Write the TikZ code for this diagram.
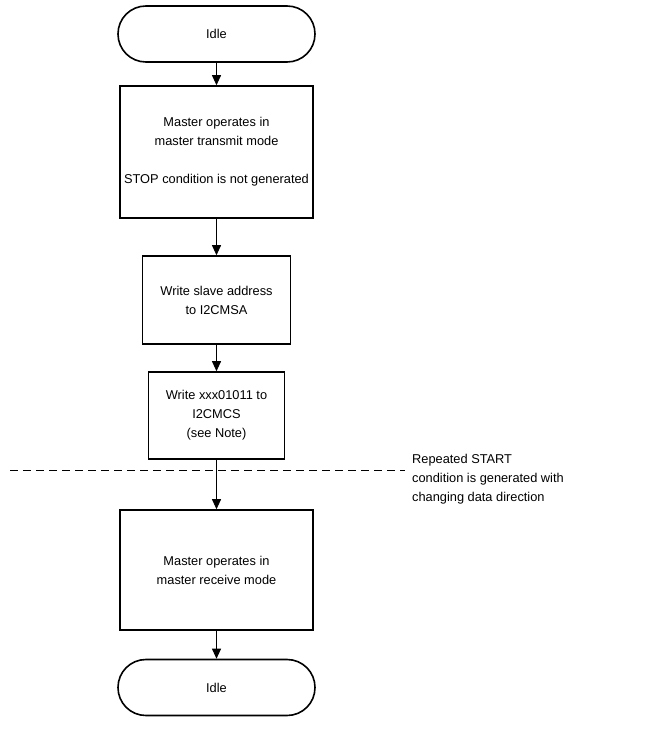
\documentclass[tikz,border=0pt]{standalone}
\usepackage{fontspec}
\setmainfont{Liberation Sans}
\usetikzlibrary{arrows.meta}
\begin{document}
\begin{tikzpicture}[x=1pt,y=-1pt,
  every node/.style={font=\fontsize{12.8}{19}\selectfont, align=center, inner sep=0pt},
  term/.style={draw, line width=1.6pt, rounded corners=27.9pt, minimum width=197pt, minimum height=56pt},
  procbox/.style={draw, line width=1.6pt},
  flow/.style={-{Triangle[length=10pt,width=9pt]}, line width=0.9pt},
  sep/.style={dash pattern=on 8pt off 5pt, line width=0.8pt}]
\useasboundingbox (0,0) rectangle (661,743);
\node[term] (idle1) at (216.5,34) {Idle};
\node[procbox, minimum width=193pt, minimum height=132pt] (b1) at (216.5,152)
  {Master operates in\\master transmit mode\\[19pt]STOP condition is not generated};
\node[procbox, minimum width=148pt, minimum height=88pt] (b2) at (216.5,300)
  {Write slave address\\to I2CMSA};
\node[procbox, minimum width=136pt, minimum height=87pt] (b3) at (216.5,415.5)
  {Write xxx01011 to\\I2CMCS\\(see Note)};
\node[procbox, minimum width=193pt, minimum height=120pt] (b4) at (216.5,570)
  {Master operates in\\master receive mode};
\node[term] (idle2) at (216.5,687.5) {Idle};
\coordinate (dl) at (10,470);
\coordinate (dr) at (405,470);
\draw[sep] (dl) -- (dr);
\node[anchor=north west, align=left] (note) at (412,453.7)
  {Repeated START\\condition is generated with\\changing data direction};
\draw[flow] (idle1) -- (b1);
\draw[flow] (b1) -- (b2);
\draw[flow] (b2) -- (b3);
\draw[flow] (b3) -- (b4);
\draw[flow] (b4) -- (idle2);
\end{tikzpicture}
\end{document}
